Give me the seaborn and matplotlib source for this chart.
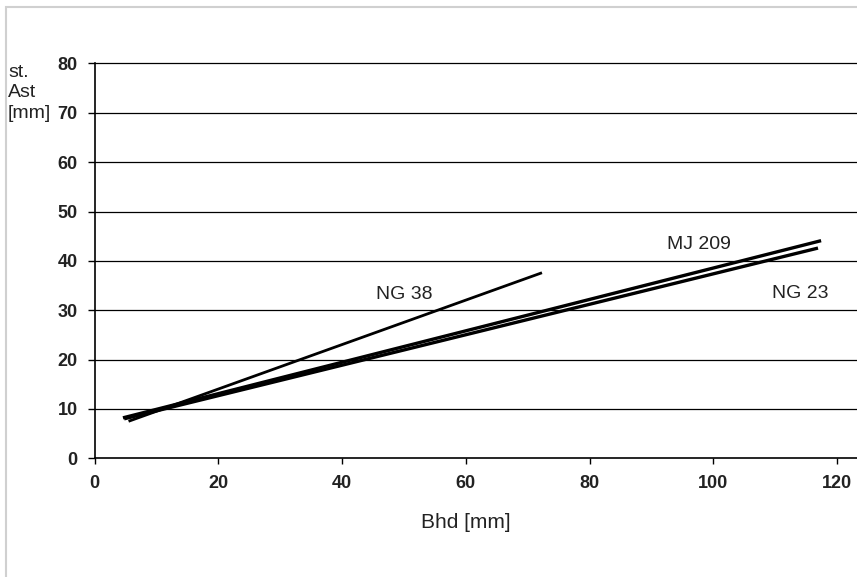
import pandas as pd
import matplotlib.pyplot as plt
import seaborn as sns
from matplotlib.patches import Rectangle

# -----------------------------
# 1. Data (line endpoints)
# -----------------------------
series = ["NG 38", "MJ 209", "NG 23"]
bhd = {"NG 38": [5.5, 72.3], "MJ 209": [4.6, 117.4], "NG 23": [4.8, 116.9]}
ast = {"NG 38": [7.5, 37.6], "MJ 209": [8.2, 44.1], "NG 23": [8.0, 42.6]}

# label positions (data coords, baseline)
label_x = [50.0, 97.7, 114.1]
label_y = [32.3, 42.4, 32.5]

x_ticks = [0, 20, 40, 60, 80, 100, 120]
y_ticks = [0, 10, 20, 30, 40, 50, 60, 70, 80]

rows = []
for s in series:
    for xv, yv in zip(bhd[s], ast[s]):
        rows.append({"tree": s, "Bhd": xv, "Ast": yv})
df = pd.DataFrame(rows)

# -----------------------------
# 2. Plot
# -----------------------------
sns.set_style("white")
plt.rcParams["font.family"] = ["Liberation Sans", "DejaVu Sans"]

fig = plt.figure(figsize=(8.57, 5.77), dpi=100)
ax = fig.add_axes([94.5 / 857, 1 - 458.3 / 577, (857 - 94.5) / 857, (458.3 - 63.5) / 577])

widths = {"NG 38": 2.0, "MJ 209": 2.4, "NG 23": 2.4}
for s in series:
    sns.lineplot(data=df[df["tree"] == s], x="Bhd", y="Ast", color="black",
                 linewidth=widths[s], sort=False, estimator=None, ax=ax,
                 solid_capstyle="butt")

for s, lx, ly in zip(series, label_x, label_y):
    ax.text(lx, ly, s, fontsize=14, color="#222222", ha="center", va="baseline")

ax.set_xlim(0, 123.2)
ax.set_ylim(0, 80)
ax.set_xticks(x_ticks)
ax.set_yticks(y_ticks)
ax.set_xlabel("")
ax.set_ylabel("")
for lab in ax.get_xticklabels() + ax.get_yticklabels():
    lab.set_fontweight("bold")
    lab.set_fontsize(13)
    lab.set_color("#222222")

for y in y_ticks[1:]:
    ax.axhline(y, color="black", linewidth=0.9, zorder=0, clip_on=False)

ax.tick_params(axis="x", direction="out", length=4, width=1, pad=8, colors="black",
               labelcolor="#222222", bottom=True)
ax.tick_params(axis="y", direction="out", length=5, width=1, pad=7, colors="black",
               labelcolor="#222222", left=True)
for side in ["top", "right"]:
    ax.spines[side].set_visible(False)
for side in ["left", "bottom"]:
    ax.spines[side].set_color("black")
    ax.spines[side].set_linewidth(1.2)

fig.text(466 / 857, 1 - 528 / 577, "Bhd [mm]", fontsize=15, color="#222222",
         ha="center", va="baseline")
fig.text(8 / 857, 1 - 64 / 577, "st.\nAst\n[mm]", fontsize=14, color="#222222",
         ha="left", va="top", linespacing=1.25)

# light frame around the figure
fig.patches.append(Rectangle((5.5 / 857, -0.05), 1.1, 1 - 7 / 577 + 0.05,
                             transform=fig.transFigure, fill=False,
                             edgecolor="#d0d0d0", linewidth=1.5))

fig.savefig("out.png", dpi=100)
